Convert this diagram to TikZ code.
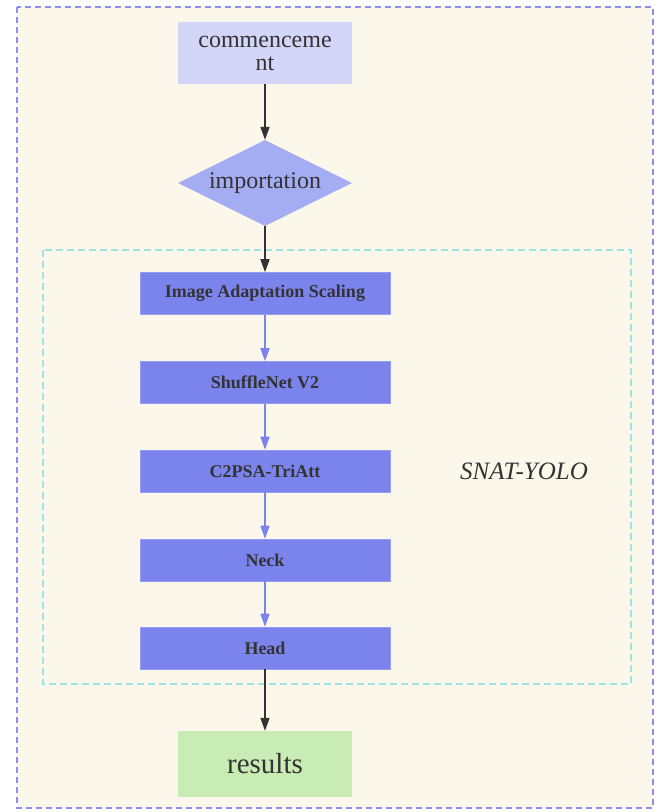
\documentclass[tikz,border=0pt]{standalone}
\usepackage{fontspec}
\setmainfont{Liberation Serif}
\usetikzlibrary{arrows.meta,shapes.geometric}
\definecolor{paper}{HTML}{FBF7EA}
\definecolor{outerline}{HTML}{8A8FF0}
\definecolor{innerline}{HTML}{9EE4E2}
\definecolor{startfill}{HTML}{D3D6F8}
\definecolor{decfill}{HTML}{A4ADF2}
\definecolor{stagefill}{HTML}{7B84EC}
\definecolor{endfill}{HTML}{C9ECB5}
\definecolor{ink}{HTML}{333333}
\tikzset{
  x=1pt, y=-1pt,
  stagebox/.style={rectangle, fill=stagefill, draw=stagefill!80!white, line width=0.6pt,
    minimum width=250pt, minimum height=42pt, inner sep=0pt, text=ink,
    font=\fontsize{18}{20}\selectfont\bfseries},
  termbox/.style={rectangle, minimum width=174pt, inner sep=0pt, text=ink},
  mainflow/.style={draw=ink, line width=1.5pt, -{Triangle[length=13pt,width=9pt]}},
  stageflow/.style={draw=stagefill, line width=1.5pt, -{Triangle[length=13pt,width=9pt]}},
}
\begin{document}
\begin{tikzpicture}
\useasboundingbox (0,0) rectangle (660,812);
\fill[white] (0,0) rectangle (660,812);
% outer frame
\draw[fill=paper, draw=outerline, dash pattern=on 6pt off 4pt, line width=1.2pt]
  (17,7) rectangle (653,808);
% model group frame
\draw[draw=innerline, dash pattern=on 7pt off 4pt, line width=1.3pt]
  (43,250) rectangle (631,684);
\node[font=\fontsize{25}{30}\selectfont\itshape, text=ink] (model) at (524,471) {SNAT-YOLO};

\node[termbox, fill=startfill, minimum height=62pt, align=center,
      font=\fontsize{24}{23}\selectfont] (start) at (265,53) {commenceme\\nt};
\node[diamond, fill=decfill, minimum width=174pt, minimum height=86pt, inner sep=0pt,
      aspect=2, text=ink, font=\fontsize{24}{28}\selectfont] (imp) at (265,183) {importation};

\node[stagebox] (ias) at (265,293.5) {Image Adaptation Scaling};
\node[stagebox] (snv) at (265,382.5) {ShuffleNet V2};
\node[stagebox] (c2p) at (265,471) {C2PSA-TriAtt};
\node[stagebox] (neck) at (265,560) {Neck};
\node[stagebox] (head) at (265,648) {Head};

\node[termbox, fill=endfill, minimum height=66pt, font=\fontsize{29}{34}\selectfont]
  (res) at (265,764) {results};

\draw[mainflow] (start.south) -- (imp.north);
\draw[mainflow] (imp.south) -- (ias.north);
\draw[stageflow] (ias.south) -- (snv.north);
\draw[stageflow] (snv.south) -- (c2p.north);
\draw[stageflow] (c2p.south) -- (neck.north);
\draw[stageflow] (neck.south) -- (head.north);
\draw[mainflow] (head.south) -- (res.north);
\end{tikzpicture}
\end{document}
